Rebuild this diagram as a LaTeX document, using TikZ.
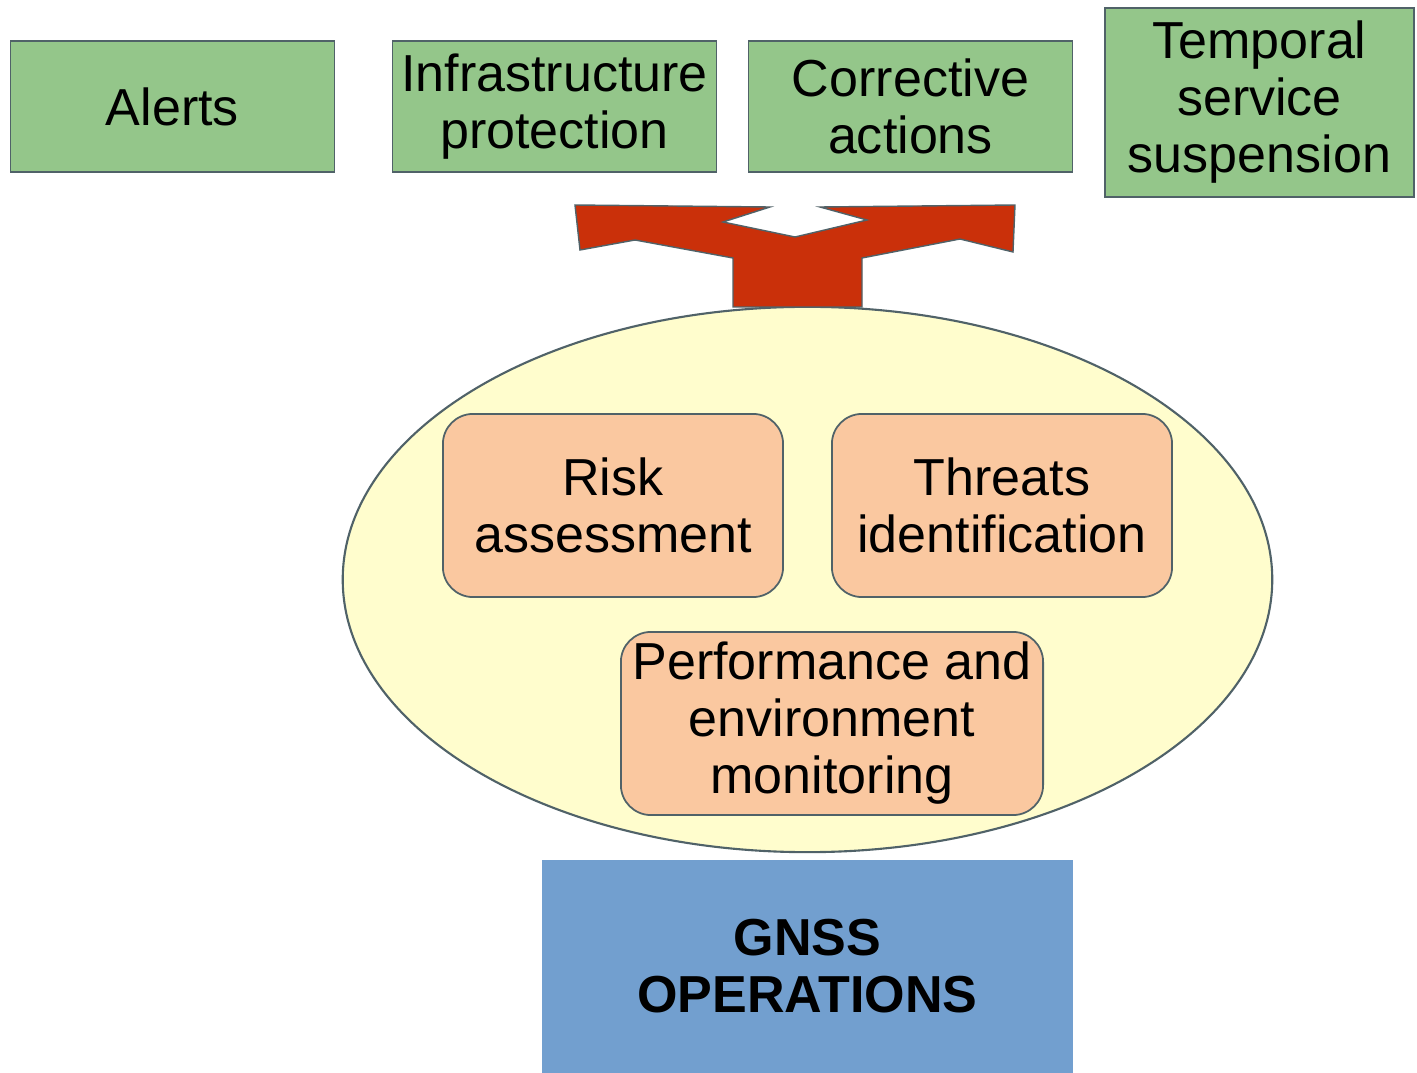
\documentclass[tikz,border=0pt]{standalone}
\usepackage{fontspec}
\setmainfont{Liberation Sans}
\usetikzlibrary{shapes.geometric}

\definecolor{actgreen}{RGB}{148,198,138}
\definecolor{taskorange}{RGB}{250,200,160}
\definecolor{scopeyellow}{RGB}{255,253,205}
\definecolor{opsblue}{RGB}{114,159,207}
\definecolor{forkred}{RGB}{202,48,10}
\definecolor{edgegray}{RGB}{80,98,104}

\begin{document}
\begin{tikzpicture}[
    x=0.01cm, y=-0.01cm,
    box/.style={draw=edgegray, line width=0.5pt, align=center, inner sep=0pt,
                font=\fontsize{14.8}{16.2}\selectfont},
    action/.style={box, fill=actgreen, minimum width=3.24cm, minimum height=1.31cm},
    task/.style={box, fill=taskorange, rounded corners=0.3cm, minimum width=3.4cm, minimum height=1.83cm},
    ops/.style={box, draw=none, fill=opsblue, minimum width=5.31cm, minimum height=2.13cm,
                font=\fontsize{14.8}{16.2}\selectfont\bfseries}
]
\useasboundingbox (0,0) rectangle (1417,1073);
\clip (0,0) rectangle (1417,1073);
\fill[white] (0,0) rectangle (1417,1073);

% Monitoring scope
\node[ellipse, draw=edgegray, line width=0.6pt, fill=scopeyellow,
      minimum width=9.29cm, minimum height=5.45cm, inner sep=0pt] (scope) at (807.5,579.5) {};

% Fork arrow towards the actions
\draw[draw=edgegray, line width=0.4pt, fill=forkred]
    (575,205) -- (770,207) -- (723,222) -- (795,237) -- (867,220) -- (820,207)
    -- (1015,205) -- (1013,252) -- (960,239) -- (862,258) -- (862,307)
    -- (733,307) -- (733,258) -- (635,240) -- (580,250) -- cycle;

% Actions
\node[action] (alerts) at (172.5,106.5) {Alerts};
\node[action] (infra) at (554.5,106.5) {Infrastructure\\protection};
\node[action] (corrective) at (910.5,106.5) {Corrective\\actions};
\node[action, minimum width=3.09cm, minimum height=1.89cm] (suspension) at (1259.5,102.5) {Temporal\\service\\suspension};

% Tasks
\node[task] (risk) at (613,505.5) {Risk\\assessment};
\node[task] (threats) at (1002,505.5) {Threats\\identification};
\node[task, minimum width=4.22cm] (perf) at (832,723.5) {Performance and\\environment\\monitoring};

% Operations
\node[ops] (gnss) at (807.5,966.5) {GNSS\\OPERATIONS};

\end{tikzpicture}
\end{document}
